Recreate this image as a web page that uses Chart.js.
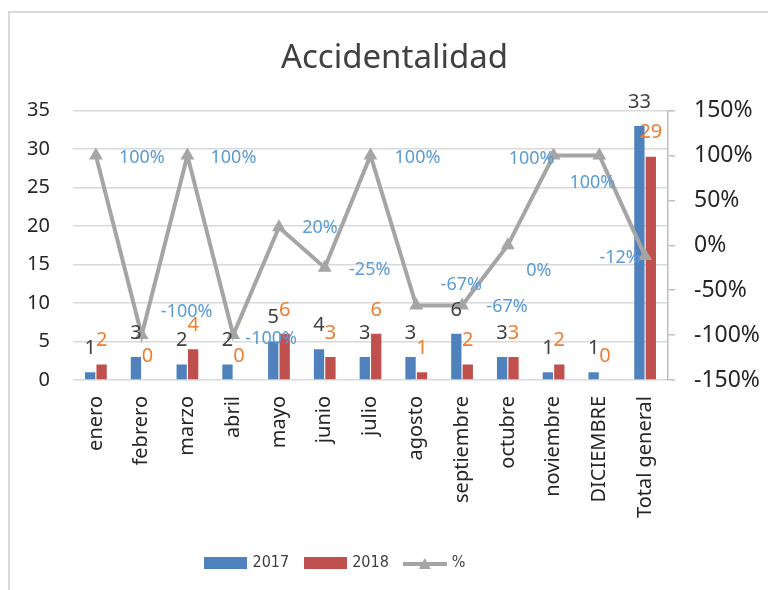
<!DOCTYPE html>
<html>
<head>
<meta charset="utf-8">
<title>Accidentalidad</title>
<script src="https://cdn.jsdelivr.net/npm/chart.js@4/dist/chart.umd.min.js"></script>
<style>
    body { margin: 0; background: #fff; }
</style>
</head>
<body>
<canvas id="grafica" width="768" height="590"></canvas>
<script>
// ================= DATOS =================

const meses = ["enero", "febrero", "marzo", "abril", "mayo", "junio", "julio",
    "agosto", "septiembre", "octubre", "noviembre", "DICIEMBRE", "Total general"];

const accidentes2017 = [1, 3, 2, 2, 5, 4, 3, 3, 6, 3, 1, 1, 33];
const accidentes2018 = [2, 0, 4, 0, 6, 3, 6, 1, 2, 3, 2, 0, 29];

// variacion 2017 -> 2018
const variacion = [1, -1, 1, -1, 0.2, -0.25, 1, -0.67, -0.67, 0, 1, 1, -0.12];

const ejeIzq = { min: 0, max: 35, paso: 5 };
const ejeDer = { min: -1.5, max: 1.5, paso: 0.5 };

// ================= ESTILO =================

const azul = "#4F81BD";
const rojo = "#C0504D";
const gris = "#A5A5A5";
const fuente = "'Noto Sans', sans-serif";

// donde va cada etiqueta de % respecto a su punto (como la puso Excel)
const desplazamientos = [
    [46, 2], [45, -23], [46, 2], [38, 4], [41, 1], [45, 2], [47, 2],
    [45, -21], [45, 1], [31, 26], [-22, 3], [-7, 27], [-25, 2]
];

Chart.defaults.font.family = fuente;

function muestra(color, ancho, alto)
{
    const c = document.createElement("canvas");
    c.width = ancho;
    c.height = alto;
    const g = c.getContext("2d");
    g.fillStyle = color;
    g.fillRect(0, 0, ancho, alto);
    return c;
}

function muestraLinea()
{
    const c = document.createElement("canvas");
    c.width = 44;
    c.height = 14;
    const g = c.getContext("2d");
    g.strokeStyle = gris;
    g.lineWidth = 4;
    g.beginPath();
    g.moveTo(0, 8);
    g.lineTo(44, 8);
    g.stroke();
    g.fillStyle = gris;
    g.beginPath();
    g.moveTo(22, 2);
    g.lineTo(28, 13);
    g.lineTo(16, 13);
    g.closePath();
    g.fill();
    return c;
}

const muestras = [muestra(azul, 43, 12), muestra(rojo, 43, 12), muestraLinea()];

// ================= PLUGINS =================

const marco = {
    id: "marco",
    beforeDraw(chart)
    {
        const ctx = chart.ctx;
        ctx.save();
        ctx.strokeStyle = "#D9D9D9";
        ctx.lineWidth = 2;
        ctx.strokeRect(9, 12, 800, 620);
        ctx.restore();
    }
};

// el titulo de Excel va centrado en todo el grafico, no en el area de barras
const moverTitulo = {
    id: "moverTitulo",
    afterLayout(chart)
    {
        const t = chart.titleBlock;
        t.left += 24;
        t.right += 24;
    }
};

const etiquetas = {
    id: "etiquetas",
    afterDatasetsDraw(chart)
    {
        const ctx = chart.ctx;
        const colores = ["#404040", "#ED7D31"];

        ctx.save();
        ctx.textAlign = "center";
        ctx.textBaseline = "middle";

        ctx.font = "20px " + fuente;
        [0, 1].forEach(i => {
            ctx.fillStyle = colores[i];
            chart.getDatasetMeta(i).data.forEach((barra, j) => {
                ctx.fillText(chart.data.datasets[i].data[j], barra.x, barra.y - 24);
            });
        });

        ctx.font = "18px " + fuente;
        ctx.fillStyle = "#5B9BD5";
        chart.getDatasetMeta(2).data.forEach((p, j) => {
            const d = desplazamientos[j];
            ctx.fillText(Math.round(variacion[j] * 100) + "%", p.x + d[0], p.y + d[1]);
        });

        ctx.restore();
    }
};

// ================= GRAFICA =================

new Chart(document.getElementById("grafica"), {
    type: "bar",
    data:
    {
        labels: meses,
        datasets:
        [
            {
                label: "2017",
                data: accidentes2017,
                backgroundColor: azul,
                yAxisID: "y",
                order: 1,
                categoryPercentage: 0.5,
                barPercentage: 0.9
            },
            {
                label: "2018",
                data: accidentes2018,
                backgroundColor: rojo,
                yAxisID: "y",
                order: 1,
                categoryPercentage: 0.5,
                barPercentage: 0.9
            },
            {
                type: "line",
                label: "%",
                data: variacion,
                yAxisID: "y2",
                order: 0,
                borderColor: gris,
                backgroundColor: gris,
                borderWidth: 4,
                tension: 0,
                pointStyle: "triangle",
                pointRadius: 8,
                pointBorderWidth: 0
            }
        ]
    },
    options:
    {
        responsive: false,
        animation: false,
        devicePixelRatio: 1,
        // la leyenda de Excel queda corrida a la izquierda
        layout: { padding: { left: -96, right: 0, top: 0, bottom: 9 } },
        plugins:
        {
            title:
            {
                display: true,
                text: "Accidentalidad",
                fullSize: false,
                color: "#404040",
                font: { size: 33, weight: "normal" },
                padding: { top: 39, bottom: 32 }
            },
            legend:
            {
                position: "bottom",
                labels:
                {
                    usePointStyle: true,
                    pointStyleWidth: 38,
                    padding: 17,
                    color: "#404040",
                    font: { family: "'DejaVu Sans Condensed', 'Liberation Sans Narrow', " + fuente, size: 16 },
                    generateLabels(chart)
                    {
                        const items = Chart.defaults.plugins.legend.labels.generateLabels(chart);
                        items.forEach(it => { it.pointStyle = muestras[it.datasetIndex]; });
                        return items;
                    },
                    sort: (a, b) => a.datasetIndex - b.datasetIndex
                }
            },
            tooltip: { enabled: false }
        },
        scales:
        {
            x:
            {
                grid: { display: false, drawTicks: false },
                border: { display: false },
                ticks:
                {
                    autoSkip: false,
                    minRotation: 90,
                    maxRotation: 90,
                    padding: 16,
                    color: "#262626",
                    font: { size: 20 }
                },
                afterFit(s) { s.height = 158; }
            },
            y:
            {
                position: "left",
                min: ejeIzq.min,
                max: ejeIzq.max,
                ticks: { stepSize: ejeIzq.paso, padding: 23, color: "#262626", font: { size: 20 } },
                grid: { color: "#D9D9D9", lineWidth: 1.5, drawTicks: false },
                border: { display: false },
                afterFit(s) { s.width = 169; }
            },
            y2:
            {
                position: "right",
                min: ejeDer.min,
                max: ejeDer.max,
                ticks:
                {
                    stepSize: ejeDer.paso,
                    padding: 19,
                    color: "#262626",
                    font: { size: 23 },
                    callback: v => Math.round(v * 100) + "%"
                },
                grid: { drawOnChartArea: false, drawTicks: true, tickLength: 7, color: "#BFBFBF", lineWidth: 1.5 },
                border: { color: "#BFBFBF", width: 1.5 },
                afterFit(s) { s.width = 100; }
            }
        }
    },
    plugins: [marco, moverTitulo, etiquetas]
});
</script>
</body>
</html>
